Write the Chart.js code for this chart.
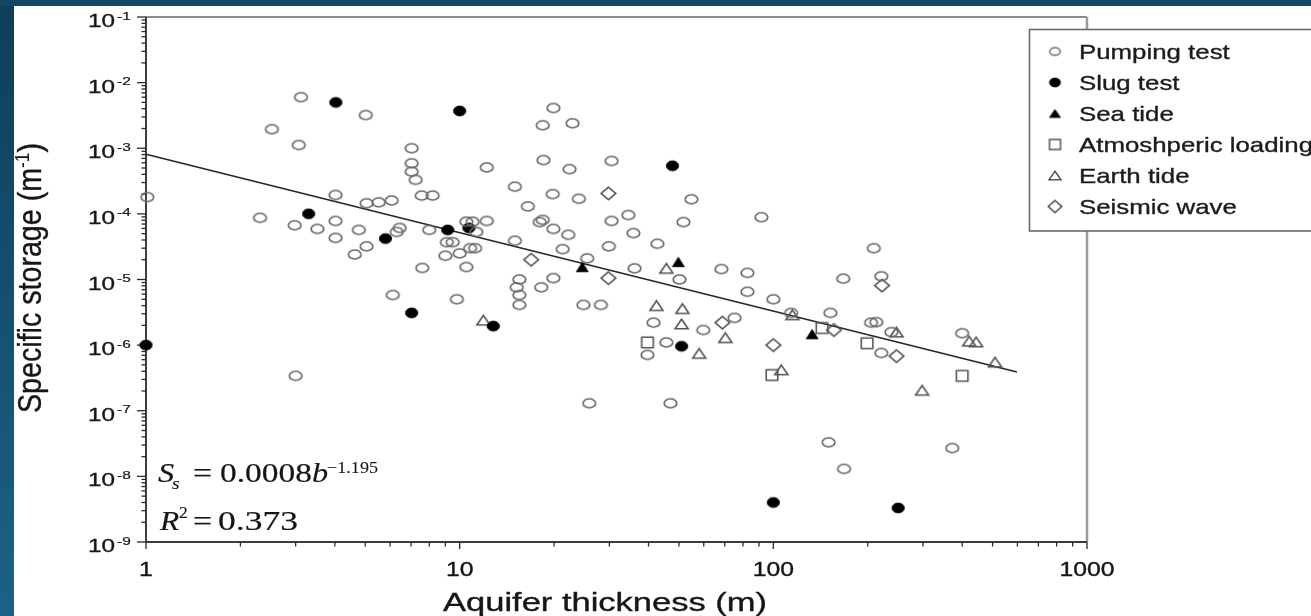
<!DOCTYPE html>
<html><head><meta charset="utf-8">
<script src="https://cdn.jsdelivr.net/npm/chart.js@4.4.1/dist/chart.umd.min.js"></script>
<style>
html,body{margin:0;padding:0;overflow:hidden;background:#fff}
#wrap{position:absolute;left:0;top:0;width:1311px;height:616px}
</style></head>
<body><div id="wrap"><canvas id="c" width="1311" height="616"></canvas></div>
<script>
// ---------------- DATA ----------------
const seriesNames = ['Pumping test','Slug test','Sea tide','Atmoshperic loading','Earth tide','Seismic wave'];

const pumpingTest = [[1.01,1.8e-4],[3.12,6.0e-3],[2.52,1.95e-3],[3.07,1.12e-3],[5.02,3.2e-3],[2.31,8.7e-5],[2.98,6.7e-5],[3.52,5.9e-5],[4.02,1.94e-4],[4.02,7.8e-5],[4.02,4.3e-5],[4.77,5.7e-5],[5.05,3.2e-5],[4.63,2.4e-5],[5.05,1.45e-4],[5.52,1.5e-4],[6.07,1.6e-4],[6.3,5.3e-5],[6.44,6.1e-5],[7.03,1.0e-3],[7.03,5.9e-4],[7.03,4.4e-4],[7.24,3.3e-4],[7.57,1.9e-4],[8.2,1.9e-4],[7.6,1.5e-5],[6.12,5.8e-6],[8.0,5.7e-5],[9.1,3.7e-5],[9.5,3.7e-5],[9.0,2.3e-5],[10.0,2.5e-5],[12.2,5.1e-4],[15.0,2.6e-4],[16.5,1.3e-4],[18.5,6.6e-4],[19.9,4.1e-3],[18.4,2.24e-3],[22.9,2.4e-3],[22.4,4.8e-4],[19.8,2.0e-4],[24.0,1.7e-4],[30.5,6.4e-4],[54.8,1.67e-4],[51.7,7.5e-5],[91.6,8.9e-5],[34.5,9.6e-5],[30.5,7.8e-5],[35.8,5.1e-5],[29.9,3.2e-5],[42.7,3.5e-5],[36.1,1.48e-5],[50.2,1.0e-5],[68.3,1.44e-5],[82.7,1.26e-5],[82.7,6.5e-6],[100,5.0e-6],[152,3.1e-6],[167,1.03e-5],[25.5,2.1e-5],[15.0,3.9e-5],[21.3,2.9e-5],[22.2,4.8e-5],[19.9,5.9e-5],[18.4,8.1e-5],[18.0,7.5e-5],[12.2,7.8e-5],[10.5,7.6e-5],[11.0,7.6e-5],[11.3,5.3e-5],[10.8,3.0e-5],[11.2,3.0e-5],[10.5,1.55e-5],[9.8,5.0e-6],[15.2,7.6e-6],[15.5,1.0e-5],[15.5,5.8e-6],[15.5,4.1e-6],[18.2,7.6e-6],[19.9,1.05e-5],[24.8,4.1e-6],[28.2,4.1e-6],[25.9,1.3e-7],[47.0,1.3e-7],[41.5,2.2e-6],[45.6,1.1e-6],[39.7,7.1e-7],[59.8,1.7e-6],[75.2,2.6e-6],[221,1.12e-5],[114,3.1e-6],[205,2.2e-6],[213,2.24e-6],[221,7.6e-7],[238,1.58e-6],[400,1.52e-6],[150,3.3e-8],[168,1.3e-8],[372,2.7e-8],[3.0,3.4e-7],[209,3.0e-5]];

const slugTest = [[4.03,5.0e-3],[10.0,3.7e-3],[47.7,5.4e-4],[3.3,1.0e-4],[9.16,5.7e-5],[10.7,6.1e-5],[5.8,4.2e-5],[7.03,3.1e-6],[12.8,1.95e-6],[1.0,1.0e-6],[51,9.6e-7],[100,4.0e-9],[250,3.3e-9]];

const seaTide = [[24.6,1.55e-5],[49.8,1.85e-5],[133,1.47e-6]];

const atmosphericLoading = [[39.7,1.1e-6],[99,3.5e-7],[143,1.82e-6],[199,1.07e-6],[400,3.4e-7]];

const earthTide = [[11.9,2.4e-6],[45.6,1.48e-5],[42.4,4.0e-6],[51.3,3.6e-6],[51,2.1e-6],[58,7.5e-7],[70.3,1.3e-6],[106,4.2e-7],[115,2.9e-6],[247,1.58e-6],[421,1.15e-6],[443,1.12e-6],[509,5.5e-7],[298,2.05e-7]];

const seismicWave = [[29.8,2.05e-4],[16.9,2.0e-5],[29.8,1.05e-5],[68.8,2.2e-6],[100,1.0e-6],[156,1.7e-6],[222,8.1e-6],[247,6.8e-7]];

// regression line end points
const fitX = [1, 598];
const fitY = [8.1e-4, 3.9e-7];

// axes
const xRange = [1, 1000];
const yRange = [1e-9, 1e-1];
const xTickValues = [1, 10, 100, 1000];
const xTickLabels = ['1', '10', '100', '1000'];
const yTickExponents = [-1, -2, -3, -4, -5, -6, -7, -8, -9];
const minorMultipliers = [2, 3, 4, 5, 6, 7, 8, 9];

const xTitle = 'Aquifer thickness (m)';
const yTitleMain = 'Specific storage (m';
const yTitleSup = '-1';
const yTitleEnd = ')';

// ---------------- helpers ----------------
const SANS = '"Liberation Sans", Arial, sans-serif';
const SERIF = '"Liberation Serif", "Times New Roman", serif';
const toXY = arr => arr.map(p => ({x: p[0], y: p[1]}));

function txt(ctx, s, x, y, font, o) {
  o = o || {};
  ctx.save();
  ctx.font = font;
  ctx.fillStyle = o.color || '#161616';
  ctx.strokeStyle = o.color || '#161616';
  ctx.lineWidth = o.heavy === undefined ? 0.35 : o.heavy;
  ctx.textBaseline = 'alphabetic';
  ctx.textAlign = 'left';
  const w = ctx.measureText(s).width;
  const sx = o.width ? o.width / w : (o.sx || 1);
  let x0 = x;
  if (o.align === 'center') x0 = x - w * sx / 2;
  else if (o.align === 'right') x0 = x - w * sx;
  ctx.translate(x0, y);
  ctx.scale(sx, 1);
  ctx.fillText(s, 0, 0);
  if (ctx.lineWidth > 0) ctx.strokeText(s, 0, 0);
  ctx.restore();
  return w * sx;
}

function marker(type, w, h, lw, stroke, fill) {
  const pad = 2;
  const c = document.createElement('canvas');
  c.width = Math.ceil(w + 2 * pad); c.height = Math.ceil(h + 2 * pad);
  const g = c.getContext('2d');
  const cx = c.width / 2, cy = c.height / 2;
  g.lineWidth = lw; g.strokeStyle = stroke; g.fillStyle = fill;
  g.lineJoin = 'miter';
  g.beginPath();
  if (type === 'circle') g.ellipse(cx, cy, w / 2, h / 2, 0, 0, 2 * Math.PI);
  else if (type === 'triangle') { g.moveTo(cx, cy - h / 2); g.lineTo(cx + w / 2, cy + h / 2); g.lineTo(cx - w / 2, cy + h / 2); g.closePath(); }
  else if (type === 'square') g.rect(cx - w / 2, cy - h / 2, w, h);
  else if (type === 'diamond') { g.moveTo(cx, cy - h / 2); g.lineTo(cx + w / 2, cy); g.lineTo(cx, cy + h / 2); g.lineTo(cx - w / 2, cy); g.closePath(); }
  if (fill !== 'none') g.fill();
  if (stroke !== 'none') g.stroke();
  return c;
}

const mk = {
  pump: marker('circle', 12.6, 9.0, 1.7, '#6a6a6a', 'none'),
  slug: marker('circle', 12.4, 10, 0.8, '#000', '#000'),
  sea: marker('triangle', 12, 9.5, 0.8, '#000', '#000'),
  atm: marker('square', 11.5, 10.5, 1.6, '#555555', 'none'),
  earth: marker('triangle', 13, 9.5, 1.6, '#555555', 'none'),
  seis: marker('diamond', 14.5, 12.5, 1.6, '#4a4a4a', 'none')
};
const lg = [
  marker('circle', 10.5, 7.5, 1.5, '#6a6a6a', 'none'),
  marker('circle', 11, 9, 0.8, '#000', '#000'),
  marker('triangle', 11, 8, 0.8, '#000', '#000'),
  marker('square', 11, 10, 1.5, '#555555', 'none'),
  marker('triangle', 12, 8.5, 1.5, '#555555', 'none'),
  marker('diamond', 13.5, 12, 1.5, '#4a4a4a', 'none')
];

// ---------------- plugins ----------------
const backgroundPlugin = {
  id: 'bg',
  beforeDraw(chart) {
    const ctx = chart.ctx, W = chart.width, H = chart.height;
    ctx.save();
    ctx.fillStyle = '#ffffff'; ctx.fillRect(0, 0, W, H);
    const g = ctx.createLinearGradient(0, 0, 0, H);
    g.addColorStop(0, '#0f3e5a'); g.addColorStop(1, '#1b6286');
    ctx.fillStyle = g; ctx.fillRect(0, 0, 14, H);
    ctx.fillStyle = '#134865'; ctx.fillRect(0, 0, W, 6);
    ctx.restore();
  }
};

const framePlugin = {
  id: 'frame',
  beforeDatasetsDraw(chart) {
    const ctx = chart.ctx, a = chart.chartArea;
    const xs = chart.scales.x, ys = chart.scales.y;
    ctx.save();
    // top & right border (gray)
    ctx.strokeStyle = '#8c8c8c'; ctx.lineWidth = 2;
    ctx.beginPath(); ctx.moveTo(a.left, a.top); ctx.lineTo(a.right, a.top); ctx.stroke();
    ctx.strokeStyle = '#9a9a9a'; ctx.lineWidth = 2.5;
    ctx.beginPath(); ctx.moveTo(a.right, a.top); ctx.lineTo(a.right, a.bottom); ctx.stroke();
    // bottom axis
    ctx.strokeStyle = '#3c3c3c'; ctx.lineWidth = 2;
    ctx.beginPath(); ctx.moveTo(a.left, a.bottom); ctx.lineTo(a.right, a.bottom); ctx.stroke();
    // left axis
    ctx.strokeStyle = '#1e1e1e'; ctx.lineWidth = 1.7;
    ctx.beginPath(); ctx.moveTo(a.left, a.top); ctx.lineTo(a.left, a.bottom); ctx.stroke();
    // y ticks
    ctx.strokeStyle = '#2a2a2a'; ctx.lineWidth = 1.3;
    yTickExponents.forEach(e => {
      const py = ys.getPixelForValue(Math.pow(10, e));
      ctx.beginPath(); ctx.moveTo(a.left - 9, py); ctx.lineTo(a.left, py); ctx.stroke();
      if (e < -1) {
        minorMultipliers.forEach(m => {
          const v = m * Math.pow(10, e);
          const p = ys.getPixelForValue(v);
          ctx.beginPath(); ctx.moveTo(a.left - 4.5, p); ctx.lineTo(a.left, p); ctx.stroke();
        });
      }
    });
    // x ticks
    xTickValues.forEach((v, i) => {
      const px = xs.getPixelForValue(v);
      ctx.beginPath(); ctx.moveTo(px, a.bottom); ctx.lineTo(px, a.bottom + 7); ctx.stroke();
      if (i < xTickValues.length - 1) {
        minorMultipliers.forEach(m => {
          const p = xs.getPixelForValue(m * v);
          ctx.beginPath(); ctx.moveTo(p, a.bottom); ctx.lineTo(p, a.bottom + 4.5); ctx.stroke();
        });
      }
    });
    ctx.restore();
  },
  afterDraw(chart) {
    const ctx = chart.ctx, a = chart.chartArea;
    const xs = chart.scales.x, ys = chart.scales.y;
    // y tick labels 10^e
    yTickExponents.forEach(e => {
      const py = ys.getPixelForValue(Math.pow(10, e));
      txt(ctx, '10', 88, py + 10, '19px ' + SANS, {width: 27});
      txt(ctx, '-' + Math.abs(e), 117, py + 2.5, '11px ' + SANS, {sx: 1.4, heavy: 0.2});
    });
    // x tick labels
    xTickValues.forEach((v, i) => {
      const px = xs.getPixelForValue(v);
      txt(ctx, xTickLabels[i], px, 576, '19.5px ' + SANS, {sx: 1.27, align: 'center'});
    });
    // x title
    txt(ctx, xTitle, 605, 611, '25px ' + SANS, {width: 324, align: 'center'});
    // y title (rotated)
    ctx.save();
    ctx.font = '28px ' + SANS;
    const w1 = ctx.measureText(yTitleMain).width;
    const w3 = ctx.measureText(yTitleEnd).width;
    ctx.font = '17px ' + SANS;
    const w2 = ctx.measureText(yTitleSup).width;
    const total = w1 + w2 + w3;
    const sx = 270 / total;
    ctx.translate(40.5, 278);
    ctx.rotate(-Math.PI / 2);
    ctx.scale(sx, 1.2);
    ctx.fillStyle = '#161616';
    ctx.strokeStyle = '#161616';
    ctx.lineWidth = 0.3;
    ctx.textBaseline = 'alphabetic';
    ctx.textAlign = 'left';
    let x0 = -total / 2;
    ctx.font = '28px ' + SANS; ctx.fillText(yTitleMain, x0, 0); ctx.strokeText(yTitleMain, x0, 0); x0 += w1;
    ctx.font = '17px ' + SANS; ctx.fillText(yTitleSup, x0, -10); x0 += w2;
    ctx.font = '28px ' + SANS; ctx.fillText(yTitleEnd, x0, 0); ctx.strokeText(yTitleEnd, x0, 0);
    ctx.restore();

    // regression equation
    const ita = 'italic 28px ' + SERIF, rom = '28px ' + SERIF;
    txt(ctx, 'S', 158, 482, ita, {sx: 1.15, heavy: 0.2});
    txt(ctx, 's', 172, 489, 'italic 17px ' + SERIF, {sx: 1.15, heavy: 0.1});
    txt(ctx, '=', 193, 482, rom, {width: 19, heavy: 0.2});
    txt(ctx, '0.0008', 220, 482, rom, {width: 92, heavy: 0.2});
    txt(ctx, 'b', 312, 482, ita, {sx: 1.15, heavy: 0.2});
    txt(ctx, '\u22121.195', 327, 473, '16px ' + SERIF, {width: 51, heavy: 0.1});
    txt(ctx, 'R', 160, 530, ita, {sx: 1.12, heavy: 0.2});
    txt(ctx, '2', 179, 518, '16px ' + SERIF, {sx: 1.1, heavy: 0.1});
    txt(ctx, '=', 193, 530, rom, {width: 19, heavy: 0.2});
    txt(ctx, '0.373', 218, 530, rom, {width: 80, heavy: 0.2});

    // legend
    ctx.save();
    ctx.fillStyle = '#ffffff';
    ctx.fillRect(1029.5, 29.5, 300, 201.5);
    ctx.strokeStyle = '#6a6a6a'; ctx.lineWidth = 1.6;
    ctx.strokeRect(1029.5, 29.5, 300, 201.5);
    ctx.restore();
    seriesNames.forEach((name, i) => {
      const cy = 51.5 + 31 * i;
      const m = lg[i];
      ctx.drawImage(m, 1055 - m.width / 2, cy - m.height / 2);
      txt(ctx, name, 1079, 59 + 31 * i, '21px ' + SANS, {sx: 1.23, color: '#1c1c1c'});
    });
  }
};

// ---------------- chart ----------------
const common = {clip: false, pointRadius: 6, pointHoverRadius: 6, showLine: false, order: 1};
new Chart(document.getElementById('c'), {
  type: 'scatter',
  data: {
    datasets: [
      Object.assign({}, common, {label: seriesNames[0], data: toXY(pumpingTest), pointStyle: mk.pump}),
      Object.assign({}, common, {label: seriesNames[1], data: toXY(slugTest), pointStyle: mk.slug}),
      Object.assign({}, common, {label: seriesNames[2], data: toXY(seaTide), pointStyle: mk.sea}),
      Object.assign({}, common, {label: seriesNames[3], data: toXY(atmosphericLoading), pointStyle: mk.atm}),
      Object.assign({}, common, {label: seriesNames[4], data: toXY(earthTide), pointStyle: mk.earth}),
      Object.assign({}, common, {label: seriesNames[5], data: toXY(seismicWave), pointStyle: mk.seis}),
      {label: 'fit', data: fitX.map((x, i) => ({x: x, y: fitY[i]})), showLine: true, pointRadius: 0,
       borderColor: '#262626', borderWidth: 1.7, fill: false, clip: false, order: 5}
    ]
  },
  options: {
    responsive: false,
    animation: false,
    events: [],
    layout: {padding: {top: 17, right: 224, left: 0, bottom: 0}},
    plugins: {legend: {display: false}, tooltip: {enabled: false}, title: {display: false}},
    scales: {
      x: {type: 'logarithmic', min: xRange[0], max: xRange[1],
          grid: {display: false}, border: {display: false}, ticks: {display: false},
          afterFit(s) { s.height = 74; }},
      y: {type: 'logarithmic', min: yRange[0], max: yRange[1],
          grid: {display: false}, border: {display: false}, ticks: {display: false},
          afterFit(s) { s.width = 146; }}
    }
  },
  plugins: [backgroundPlugin, framePlugin]
});
</script>
</body></html>
